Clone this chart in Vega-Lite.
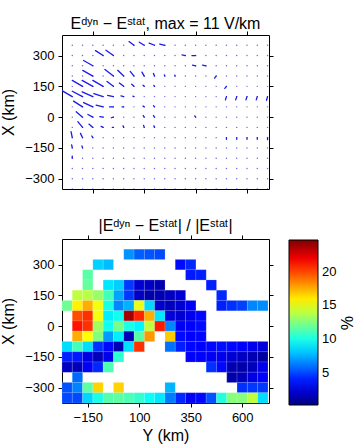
{
  "$schema": "https://vega.github.io/schema/vega-lite/v6.json",
  "autosize": {"type": "pad"},
  "padding": {"left": 0, "top": 15, "right": 0, "bottom": 0},
  "background": "white",
  "spacing": 23,
  "config": {
    "font": "Liberation Sans",
    "view": {"stroke": "black", "strokeWidth": 1},
    "axis": {"domain": false, "grid": false, "tickColor": "black", "tickSize": 4, "tickWidth": 1, "labelFont": "Liberation Sans", "labelFontSize": 13, "labelColor": "black", "labelPadding": 4, "titleFont": "Liberation Sans", "titleFontSize": 16, "titleFontWeight": "normal", "titleColor": "black"},
    "title": {"font": "Liberation Sans", "fontSize": 16, "fontWeight": "normal", "color": "black", "anchor": "middle"}
  },
  "datasets": {
    "dots": [
      {"Y":-250,"X":350},{"Y":-200,"X":350},{"Y":-150,"X":350},{"Y":-100,"X":350},{"Y":-50,"X":350},{"Y":0,"X":350},{"Y":50,"X":350},{"Y":100,"X":350},{"Y":150,"X":350},{"Y":200,"X":350},{"Y":250,"X":350},{"Y":300,"X":350},{"Y":350,"X":350},{"Y":400,"X":350},{"Y":450,"X":350},{"Y":500,"X":350},{"Y":550,"X":350},{"Y":600,"X":350},{"Y":650,"X":350},{"Y":700,"X":350},
      {"Y":-250,"X":300},{"Y":-200,"X":300},{"Y":-150,"X":300},{"Y":-100,"X":300},{"Y":-50,"X":300},{"Y":0,"X":300},{"Y":50,"X":300},{"Y":100,"X":300},{"Y":150,"X":300},{"Y":200,"X":300},{"Y":250,"X":300},{"Y":300,"X":300},{"Y":350,"X":300},{"Y":400,"X":300},{"Y":450,"X":300},{"Y":500,"X":300},{"Y":550,"X":300},{"Y":600,"X":300},{"Y":650,"X":300},{"Y":700,"X":300},
      {"Y":-250,"X":250},{"Y":-200,"X":250},{"Y":-150,"X":250},{"Y":-100,"X":250},{"Y":-50,"X":250},{"Y":0,"X":250},{"Y":50,"X":250},{"Y":100,"X":250},{"Y":150,"X":250},{"Y":200,"X":250},{"Y":250,"X":250},{"Y":300,"X":250},{"Y":350,"X":250},{"Y":400,"X":250},{"Y":450,"X":250},{"Y":500,"X":250},{"Y":550,"X":250},{"Y":600,"X":250},{"Y":650,"X":250},{"Y":700,"X":250},
      {"Y":-250,"X":200},{"Y":-200,"X":200},{"Y":-150,"X":200},{"Y":-100,"X":200},{"Y":-50,"X":200},{"Y":0,"X":200},{"Y":50,"X":200},{"Y":100,"X":200},{"Y":150,"X":200},{"Y":200,"X":200},{"Y":250,"X":200},{"Y":300,"X":200},{"Y":350,"X":200},{"Y":400,"X":200},{"Y":450,"X":200},{"Y":500,"X":200},{"Y":550,"X":200},{"Y":600,"X":200},{"Y":650,"X":200},{"Y":700,"X":200},
      {"Y":-250,"X":150},{"Y":-200,"X":150},{"Y":-150,"X":150},{"Y":-100,"X":150},{"Y":-50,"X":150},{"Y":0,"X":150},{"Y":50,"X":150},{"Y":100,"X":150},{"Y":150,"X":150},{"Y":200,"X":150},{"Y":250,"X":150},{"Y":300,"X":150},{"Y":350,"X":150},{"Y":400,"X":150},{"Y":450,"X":150},{"Y":500,"X":150},{"Y":550,"X":150},{"Y":600,"X":150},{"Y":650,"X":150},{"Y":700,"X":150},
      {"Y":-250,"X":100},{"Y":-200,"X":100},{"Y":-150,"X":100},{"Y":-100,"X":100},{"Y":-50,"X":100},{"Y":0,"X":100},{"Y":50,"X":100},{"Y":100,"X":100},{"Y":150,"X":100},{"Y":200,"X":100},{"Y":250,"X":100},{"Y":300,"X":100},{"Y":350,"X":100},{"Y":400,"X":100},{"Y":450,"X":100},{"Y":500,"X":100},{"Y":550,"X":100},{"Y":600,"X":100},{"Y":650,"X":100},{"Y":700,"X":100},
      {"Y":-250,"X":50},{"Y":-200,"X":50},{"Y":-150,"X":50},{"Y":-100,"X":50},{"Y":-50,"X":50},{"Y":0,"X":50},{"Y":50,"X":50},{"Y":100,"X":50},{"Y":150,"X":50},{"Y":200,"X":50},{"Y":250,"X":50},{"Y":300,"X":50},{"Y":350,"X":50},{"Y":400,"X":50},{"Y":450,"X":50},{"Y":500,"X":50},{"Y":550,"X":50},{"Y":600,"X":50},{"Y":650,"X":50},{"Y":700,"X":50},
      {"Y":-250,"X":0},{"Y":-200,"X":0},{"Y":-150,"X":0},{"Y":-100,"X":0},{"Y":-50,"X":0},{"Y":0,"X":0},{"Y":50,"X":0},{"Y":100,"X":0},{"Y":150,"X":0},{"Y":200,"X":0},{"Y":250,"X":0},{"Y":300,"X":0},{"Y":350,"X":0},{"Y":400,"X":0},{"Y":450,"X":0},{"Y":500,"X":0},{"Y":550,"X":0},{"Y":600,"X":0},{"Y":650,"X":0},{"Y":700,"X":0},
      {"Y":-250,"X":-50},{"Y":-200,"X":-50},{"Y":-150,"X":-50},{"Y":-100,"X":-50},{"Y":-50,"X":-50},{"Y":0,"X":-50},{"Y":50,"X":-50},{"Y":100,"X":-50},{"Y":150,"X":-50},{"Y":200,"X":-50},{"Y":250,"X":-50},{"Y":300,"X":-50},{"Y":350,"X":-50},{"Y":400,"X":-50},{"Y":450,"X":-50},{"Y":500,"X":-50},{"Y":550,"X":-50},{"Y":600,"X":-50},{"Y":650,"X":-50},{"Y":700,"X":-50},
      {"Y":-250,"X":-100},{"Y":-200,"X":-100},{"Y":-150,"X":-100},{"Y":-100,"X":-100},{"Y":-50,"X":-100},{"Y":0,"X":-100},{"Y":50,"X":-100},{"Y":100,"X":-100},{"Y":150,"X":-100},{"Y":200,"X":-100},{"Y":250,"X":-100},{"Y":300,"X":-100},{"Y":350,"X":-100},{"Y":400,"X":-100},{"Y":450,"X":-100},{"Y":500,"X":-100},{"Y":550,"X":-100},{"Y":600,"X":-100},{"Y":650,"X":-100},{"Y":700,"X":-100},
      {"Y":-250,"X":-150},{"Y":-200,"X":-150},{"Y":-150,"X":-150},{"Y":-100,"X":-150},{"Y":-50,"X":-150},{"Y":0,"X":-150},{"Y":50,"X":-150},{"Y":100,"X":-150},{"Y":150,"X":-150},{"Y":200,"X":-150},{"Y":250,"X":-150},{"Y":300,"X":-150},{"Y":350,"X":-150},{"Y":400,"X":-150},{"Y":450,"X":-150},{"Y":500,"X":-150},{"Y":550,"X":-150},{"Y":600,"X":-150},{"Y":650,"X":-150},{"Y":700,"X":-150},
      {"Y":-250,"X":-200},{"Y":-200,"X":-200},{"Y":-150,"X":-200},{"Y":-100,"X":-200},{"Y":-50,"X":-200},{"Y":0,"X":-200},{"Y":50,"X":-200},{"Y":100,"X":-200},{"Y":150,"X":-200},{"Y":200,"X":-200},{"Y":250,"X":-200},{"Y":300,"X":-200},{"Y":350,"X":-200},{"Y":400,"X":-200},{"Y":450,"X":-200},{"Y":500,"X":-200},{"Y":550,"X":-200},{"Y":600,"X":-200},{"Y":650,"X":-200},{"Y":700,"X":-200},
      {"Y":-250,"X":-250},{"Y":-200,"X":-250},{"Y":-150,"X":-250},{"Y":-100,"X":-250},{"Y":-50,"X":-250},{"Y":0,"X":-250},{"Y":50,"X":-250},{"Y":100,"X":-250},{"Y":150,"X":-250},{"Y":200,"X":-250},{"Y":250,"X":-250},{"Y":300,"X":-250},{"Y":350,"X":-250},{"Y":400,"X":-250},{"Y":450,"X":-250},{"Y":500,"X":-250},{"Y":550,"X":-250},{"Y":600,"X":-250},{"Y":650,"X":-250},{"Y":700,"X":-250},
      {"Y":-250,"X":-300},{"Y":-200,"X":-300},{"Y":-150,"X":-300},{"Y":-100,"X":-300},{"Y":-50,"X":-300},{"Y":0,"X":-300},{"Y":50,"X":-300},{"Y":100,"X":-300},{"Y":150,"X":-300},{"Y":200,"X":-300},{"Y":250,"X":-300},{"Y":300,"X":-300},{"Y":350,"X":-300},{"Y":400,"X":-300},{"Y":450,"X":-300},{"Y":500,"X":-300},{"Y":550,"X":-300},{"Y":600,"X":-300},{"Y":650,"X":-300},{"Y":700,"X":-300},
      {"Y":-250,"X":-350},{"Y":-200,"X":-350},{"Y":-150,"X":-350},{"Y":-100,"X":-350},{"Y":-50,"X":-350},{"Y":0,"X":-350},{"Y":50,"X":-350},{"Y":100,"X":-350},{"Y":150,"X":-350},{"Y":200,"X":-350},{"Y":250,"X":-350},{"Y":300,"X":-350},{"Y":350,"X":-350},{"Y":400,"X":-350},{"Y":450,"X":-350},{"Y":500,"X":-350},{"Y":550,"X":-350},{"Y":600,"X":-350},{"Y":650,"X":-350},{"Y":700,"X":-350}
    ],
    "arrows": [
      {"Y":50,"X":350,"Y2":26,"X2":368},{"Y":100,"X":350,"Y2":76,"X2":365},{"Y":150,"X":350,"Y2":124,"X2":360},{"Y":200,"X":350,"Y2":176,"X2":356},
      {"Y":-100,"X":300,"Y2":-137,"X2":324},{"Y":-50,"X":300,"Y2":-86,"X2":326},{"Y":300,"X":300,"Y2":284,"X2":303},{"Y":350,"X":300,"Y2":332,"X2":300},
      {"Y":-150,"X":250,"Y2":-195,"X2":276},{"Y":350,"X":250,"Y2":335,"X2":253},{"Y":400,"X":250,"Y2":384,"X2":253},
      {"Y":-150,"X":200,"Y2":-199,"X2":228},{"Y":-50,"X":200,"Y2":-91,"X2":232},{"Y":0,"X":200,"Y2":-29,"X2":228},{"Y":50,"X":200,"Y2":32,"X2":223},{"Y":100,"X":200,"Y2":89,"X2":219},{"Y":150,"X":200,"Y2":145,"X2":213},{"Y":200,"X":200,"Y2":198,"X2":206},{"Y":250,"X":200,"Y2":249,"X2":205},{"Y":450,"X":200,"Y2":442,"X2":190},
      {"Y":-200,"X":150,"Y2":-250,"X2":179},{"Y":-150,"X":150,"Y2":-202,"X2":179},{"Y":-100,"X":150,"Y2":-150,"X2":179},{"Y":-50,"X":150,"Y2":-81,"X2":174},{"Y":0,"X":150,"Y2":-21,"X2":166},{"Y":50,"X":150,"Y2":39,"X2":160},{"Y":100,"X":150,"Y2":94,"X2":156},{"Y":150,"X":150,"Y2":147,"X2":154},{"Y":500,"X":150,"Y2":492,"X2":140},
      {"Y":-250,"X":100,"Y2":-300,"X2":129},{"Y":-200,"X":100,"Y2":-250,"X2":126},{"Y":-150,"X":100,"Y2":-202,"X2":123},{"Y":-100,"X":100,"Y2":-145,"X2":115},{"Y":-50,"X":100,"Y2":-78,"X2":106},{"Y":0,"X":100,"Y2":-13,"X2":103},{"Y":50,"X":100,"Y2":45,"X2":102},{"Y":500,"X":100,"Y2":495,"X2":84},{"Y":550,"X":100,"Y2":545,"X2":84},{"Y":600,"X":100,"Y2":595,"X2":84},{"Y":650,"X":100,"Y2":645,"X2":84},{"Y":700,"X":100,"Y2":695,"X2":82},
      {"Y":-200,"X":50,"Y2":-244,"X2":78},{"Y":-150,"X":50,"Y2":-195,"X2":71},{"Y":-100,"X":50,"Y2":-134,"X2":58},{"Y":-50,"X":50,"Y2":-69,"X2":50},{"Y":0,"X":50,"Y2":-8,"X2":50},{"Y":100,"X":50,"Y2":94,"X2":54},{"Y":150,"X":50,"Y2":145,"X2":56},
      {"Y":-200,"X":0,"Y2":-231,"X2":26},{"Y":-150,"X":0,"Y2":-174,"X2":13},{"Y":-100,"X":0,"Y2":-116,"X2":2},{"Y":-50,"X":0,"Y2":-60,"X2":-3},{"Y":100,"X":0,"Y2":95,"X2":8},{"Y":150,"X":0,"Y2":145,"X2":8},{"Y":350,"X":0,"Y2":346,"X2":6},
      {"Y":-200,"X":-50,"Y2":-223,"X2":-22},{"Y":-150,"X":-50,"Y2":-169,"X2":-34},{"Y":-100,"X":-50,"Y2":-110,"X2":-45},{"Y":-50,"X":-50,"Y2":-55,"X2":-50},{"Y":0,"X":-50,"Y2":-3,"X2":-42},{"Y":100,"X":-50,"Y2":97,"X2":-40},{"Y":150,"X":-50,"Y2":147,"X2":-42},
      {"Y":-250,"X":-100,"Y2":-256,"X2":-71},{"Y":-200,"X":-100,"Y2":-210,"X2":-79},{"Y":-150,"X":-100,"Y2":-155,"X2":-92},{"Y":500,"X":-100,"Y2":500,"X2":-108},{"Y":550,"X":-100,"Y2":550,"X2":-108},{"Y":600,"X":-100,"Y2":600,"X2":-108},{"Y":650,"X":-100,"Y2":650,"X2":-108},{"Y":700,"X":-100,"Y2":700,"X2":-110},
      {"Y":-250,"X":-150,"Y2":-253,"X2":-135},{"Y":-200,"X":-150,"Y2":-203,"X2":-140},
      {"Y":-250,"X":-200,"Y2":-250,"X2":-190}
    ],
    "cells": [
      {"Y":50,"X":350,"v":6.8},{"Y":100,"X":350,"v":5.5},{"Y":150,"X":350,"v":5.3},{"Y":200,"X":350,"v":5.0},
      {"Y":-100,"X":300,"v":8.3},{"Y":-50,"X":300,"v":7.8},{"Y":300,"X":300,"v":3.5},{"Y":350,"X":300,"v":4.2},
      {"Y":-150,"X":250,"v":11.5},{"Y":350,"X":250,"v":3.8},{"Y":400,"X":250,"v":4.0},
      {"Y":-150,"X":200,"v":11.8},{"Y":-50,"X":200,"v":8.8},{"Y":0,"X":200,"v":8.2},{"Y":50,"X":200,"v":4.6},{"Y":100,"X":200,"v":2.2},{"Y":150,"X":200,"v":1.8},{"Y":200,"X":200,"v":1.4},{"Y":450,"X":200,"v":4.0},
      {"Y":-200,"X":150,"v":14.0},{"Y":-150,"X":150,"v":13.8},{"Y":-100,"X":150,"v":13.0},{"Y":-50,"X":150,"v":11.0},{"Y":0,"X":150,"v":7.2},{"Y":50,"X":150,"v":4.6},{"Y":100,"X":150,"v":1.8},{"Y":150,"X":150,"v":1.2},{"Y":200,"X":150,"v":1.4},{"Y":250,"X":150,"v":1.8},{"Y":300,"X":150,"v":2.2},{"Y":500,"X":150,"v":4.2},
      {"Y":-250,"X":100,"v":12.0},{"Y":-200,"X":100,"v":15.8},{"Y":-150,"X":100,"v":17.5},{"Y":-100,"X":100,"v":15.2},{"Y":-50,"X":100,"v":10.0},{"Y":0,"X":100,"v":6.5},{"Y":50,"X":100,"v":7.5},{"Y":100,"X":100,"v":15.0},{"Y":150,"X":100,"v":8.5},{"Y":200,"X":100,"v":2.0},{"Y":250,"X":100,"v":1.6},{"Y":300,"X":100,"v":2.2},{"Y":350,"X":100,"v":3.0},{"Y":500,"X":100,"v":4.0},{"Y":550,"X":100,"v":4.4},{"Y":600,"X":100,"v":4.8},{"Y":650,"X":100,"v":6.5},{"Y":700,"X":100,"v":6.6},
      {"Y":-200,"X":50,"v":19.8},{"Y":-150,"X":50,"v":20.5},{"Y":-100,"X":50,"v":15.2},{"Y":-50,"X":50,"v":9.0},{"Y":0,"X":50,"v":9.8},{"Y":50,"X":50,"v":23.8},{"Y":100,"X":50,"v":20.8},{"Y":150,"X":50,"v":17.5},{"Y":200,"X":50,"v":8.8},{"Y":250,"X":50,"v":2.4},{"Y":300,"X":50,"v":2.2},{"Y":350,"X":50,"v":2.8},{"Y":400,"X":50,"v":3.4},
      {"Y":-200,"X":0,"v":21.2},{"Y":-150,"X":0,"v":20.5},{"Y":-100,"X":0,"v":13.2},{"Y":-50,"X":0,"v":9.8},{"Y":0,"X":0,"v":12.2},{"Y":50,"X":0,"v":10.0},{"Y":100,"X":0,"v":9.2},{"Y":150,"X":0,"v":14.0},{"Y":200,"X":0,"v":21.0},{"Y":250,"X":0,"v":6.5},{"Y":300,"X":0,"v":3.0},{"Y":350,"X":0,"v":3.2},{"Y":400,"X":0,"v":3.5},
      {"Y":-200,"X":-50,"v":17.5},{"Y":-150,"X":-50,"v":15.5},{"Y":-100,"X":-50,"v":12.5},{"Y":-50,"X":-50,"v":7.0},{"Y":0,"X":-50,"v":9.0},{"Y":50,"X":-50,"v":1.5},{"Y":100,"X":-50,"v":11.5},{"Y":150,"X":-50,"v":18.0},{"Y":250,"X":-50,"v":16.8},{"Y":300,"X":-50,"v":3.5},{"Y":350,"X":-50,"v":3.2},{"Y":400,"X":-50,"v":3.4},
      {"Y":-250,"X":-100,"v":8.6},{"Y":-200,"X":-100,"v":11.0},{"Y":-150,"X":-100,"v":8.6},{"Y":-100,"X":-100,"v":4.4},{"Y":-50,"X":-100,"v":3.4},{"Y":0,"X":-100,"v":1.4},{"Y":50,"X":-100,"v":8.6},{"Y":100,"X":-100,"v":20.5},{"Y":250,"X":-100,"v":6.0},{"Y":300,"X":-100,"v":4.0},{"Y":350,"X":-100,"v":3.4},{"Y":400,"X":-100,"v":3.2},{"Y":450,"X":-100,"v":3.4},{"Y":500,"X":-100,"v":3.6},{"Y":550,"X":-100,"v":3.4},{"Y":600,"X":-100,"v":3.2},{"Y":650,"X":-100,"v":2.8},{"Y":700,"X":-100,"v":2.4},
      {"Y":-250,"X":-150,"v":4.0},{"Y":-200,"X":-150,"v":3.8},{"Y":-150,"X":-150,"v":2.6},{"Y":-100,"X":-150,"v":1.6},{"Y":-50,"X":-150,"v":2.8},{"Y":0,"X":-150,"v":10.5},{"Y":350,"X":-150,"v":3.2},{"Y":400,"X":-150,"v":3.2},{"Y":450,"X":-150,"v":3.0},{"Y":500,"X":-150,"v":2.8},{"Y":550,"X":-150,"v":2.2},{"Y":600,"X":-150,"v":1.8},{"Y":650,"X":-150,"v":1.4},{"Y":700,"X":-150,"v":1.0},
      {"Y":-250,"X":-200,"v":1.8},{"Y":-200,"X":-200,"v":1.6},{"Y":-150,"X":-200,"v":3.0},{"Y":-100,"X":-200,"v":4.2},{"Y":-50,"X":-200,"v":11.2},{"Y":450,"X":-200,"v":4.4},{"Y":500,"X":-200,"v":3.4},{"Y":550,"X":-200,"v":1.4},{"Y":600,"X":-200,"v":1.2},{"Y":650,"X":-200,"v":1.6},{"Y":700,"X":-200,"v":2.8},
      {"Y":-200,"X":-250,"v":5.8},{"Y":550,"X":-250,"v":1.2},{"Y":600,"X":-250,"v":1.6},{"Y":650,"X":-250,"v":2.6},{"Y":700,"X":-250,"v":3.2},
      {"Y":-250,"X":-300,"v":5.2},{"Y":-200,"X":-300,"v":6.4},{"Y":-150,"X":-300,"v":11.6},{"Y":-100,"X":-300,"v":16.6},{"Y":0,"X":-300,"v":16.6},{"Y":250,"X":-300,"v":7.6},{"Y":600,"X":-300,"v":4.4},{"Y":650,"X":-300,"v":4.6},{"Y":700,"X":-300,"v":4.6},
      {"Y":-250,"X":-350,"v":5.0},{"Y":-200,"X":-350,"v":5.0},{"Y":-150,"X":-350,"v":8.4},{"Y":-100,"X":-350,"v":10.0},{"Y":-50,"X":-350,"v":11.4},{"Y":0,"X":-350,"v":11.6},{"Y":50,"X":-350,"v":11.2},{"Y":100,"X":-350,"v":10.6},{"Y":150,"X":-350,"v":9.6},{"Y":200,"X":-350,"v":8.8},{"Y":250,"X":-350,"v":6.2},{"Y":300,"X":-350,"v":4.2},{"Y":350,"X":-350,"v":3.0},{"Y":400,"X":-350,"v":3.4},{"Y":450,"X":-350,"v":5.2},{"Y":500,"X":-350,"v":10.2},{"Y":550,"X":-350,"v":12.6},{"Y":600,"X":-350,"v":12.6},{"Y":650,"X":-350,"v":14.0},{"Y":700,"X":-350,"v":8.6}
    ]
  },
  "vconcat": [
    {
      "width": 207,
      "height": 154,
      "title": {"text": "Eᵈʸⁿ − Eˢᵗᵃᵗ, max =  11 V/km", "offset": -1},
      "layer": [
        {
          "data": {"name": "dots"},
          "mark": {"type": "point", "filled": true, "size": 2, "color": "#4040d0", "opacity": 0.8, "clip": true},
          "encoding": {
            "x": {"field": "Y", "type": "quantitative", "scale": {"domain": [-300, 707], "nice": false, "zero": false}, "axis": {"orient": "bottom", "values": [-150, 100, 350, 600], "labels": false, "title": null}},
            "y": {"field": "X", "type": "quantitative", "scale": {"domain": [-350, 400], "nice": false, "zero": false}, "axis": {"orient": "left", "values": [-300, -150, 0, 150, 300], "title": "X (km)", "titlePadding": 8}}
          }
        },
        {
          "data": {"name": "arrows"},
          "mark": {"type": "rule", "color": "#1a1aee", "strokeWidth": 1.3, "strokeCap": "round", "clip": true},
          "encoding": {
            "x": {"field": "Y", "type": "quantitative", "scale": {"domain": [-300, 707], "nice": false, "zero": false}, "axis": {"orient": "top", "values": [-150, 100, 350, 600], "labels": false, "title": null}},
            "x2": {"field": "Y2"},
            "y": {"field": "X", "type": "quantitative", "scale": {"domain": [-350, 400], "nice": false, "zero": false}, "axis": {"orient": "right", "values": [-300, -150, 0, 150, 300], "labels": false, "title": null}},
            "y2": {"field": "X2"}
          }
        }
      ],
      "resolve": {"axis": {"x": "independent", "y": "independent"}}
    },
    {
      "width": 207,
      "height": 164,
      "title": {"text": "|Eᵈʸⁿ − Eˢᵗᵃᵗ| / |Eˢᵗᵃᵗ|", "offset": 1},
      "layer": [
        {
          "data": {"name": "cells"},
          "mark": {"type": "square", "size": 108, "opacity": 1, "stroke": "white", "strokeWidth": 0.5, "strokeOpacity": 0.3},
          "encoding": {
            "x": {"field": "Y", "type": "quantitative", "scale": {"domain": [-275, 730], "nice": false, "zero": false}, "axis": {"orient": "bottom", "values": [-150, 100, 350, 600], "title": "Y (km)", "titlePadding": 3}},
            "y": {"field": "X", "type": "quantitative", "scale": {"domain": [-375, 425], "nice": false, "zero": false}, "axis": {"orient": "left", "values": [-300, -150, 0, 150, 300], "title": "X (km)", "titlePadding": 8}},
            "color": {
              "field": "v", "type": "quantitative",
              "scale": {"domain": [0.2, 3.26, 6.33, 9.39, 12.45, 15.51, 18.58, 21.64, 24.7], "range": ["#000080", "#0000ff", "#0080ff", "#00ffff", "#80ff80", "#ffff00", "#ff8000", "#ff0000", "#800000"], "interpolate": "rgb"},
              "legend": {"orient": "none", "legendX": 227, "legendY": 205, "direction": "vertical", "gradientLength": 165, "gradientThickness": 29, "values": [5, 10, 15, 20], "title": "%", "titleOrient": "right", "titleAngle": 270, "titleAnchor": "middle", "titleFontSize": 16, "titleFontWeight": "normal", "titleColor": "black", "titlePadding": 2, "labelFontSize": 13, "labelColor": "black", "labelOffset": 4, "gradientStrokeColor": "black", "gradientStrokeWidth": 1}
            }
          }
        },
        {
          "data": {"name": "cells"},
          "mark": {"type": "point", "opacity": 0},
          "encoding": {
            "x": {"field": "Y", "type": "quantitative", "scale": {"domain": [-275, 730], "nice": false, "zero": false}, "axis": {"orient": "top", "values": [-150, 100, 350, 600], "labels": false, "title": null}},
            "y": {"field": "X", "type": "quantitative", "scale": {"domain": [-375, 425], "nice": false, "zero": false}, "axis": {"orient": "right", "values": [-300, -150, 0, 150, 300], "labels": false, "title": null}}
          }
        }
      ],
      "resolve": {"axis": {"x": "independent", "y": "independent"}}
    }
  ]
}
